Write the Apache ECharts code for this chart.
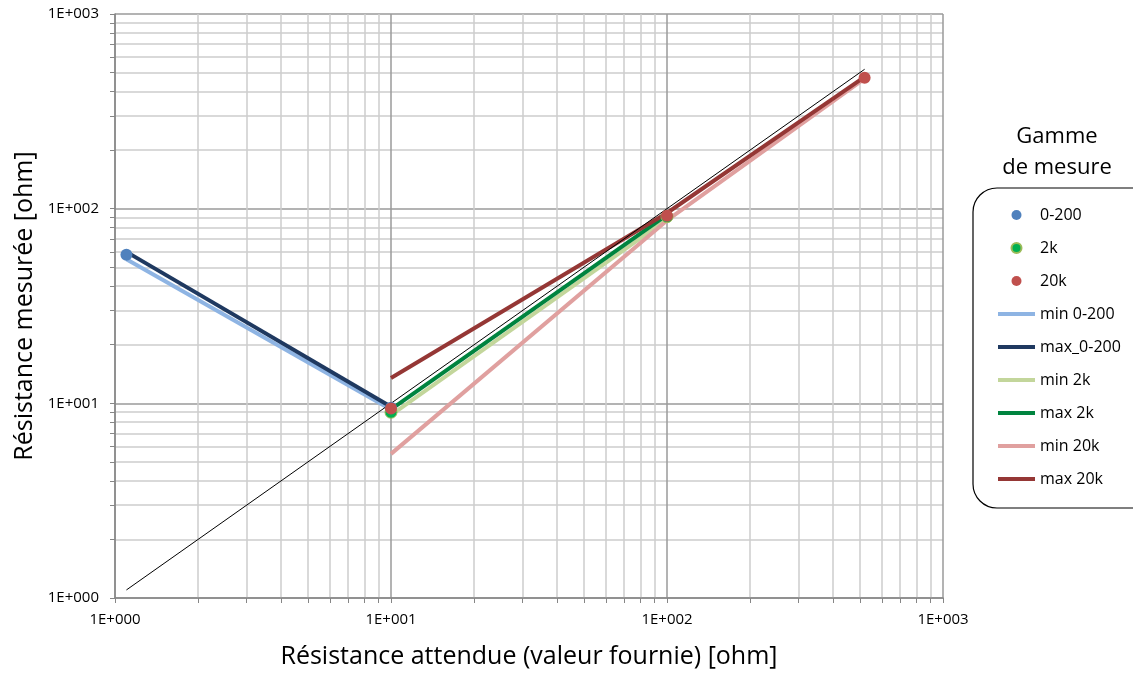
<!DOCTYPE html>
<html>
<head>
<meta charset="utf-8">
<script src="https://cdn.jsdelivr.net/npm/echarts@6/dist/echarts.min.js"></script>
<style>
  html, body { margin: 0; padding: 0; background: #fff; }
  #chart { width: 1133px; height: 674px; }
</style>
</head>
<body>
<div id="chart"></div>
<script>
// valeurs (x = résistance attendue, y = mesurée)
var pts_0_200 = [[1.1, 58], [10, 9.5]];
var pts_2k = [[10, 9.0], [100, 91]];
var pts_20k = [[10, 9.4], [100, 92], [520, 470]];
var min_0_200 = [[1.1, 55], [10, 9.3]];
var max_0_200 = [[1.1, 60], [10, 9.6]];
var min_2k = [[10, 8.7], [100, 88]];
var max_2k = [[10, 9.3], [100, 93]];
var min_20k = [[10, 5.5], [100, 87], [520, 465]];
var max_20k = [[10, 13.5], [100, 95], [520, 475]];
var ideal = [[1.1, 1.1], [520, 520]];

var FONT = "Open Sans";

var myChart = echarts.init(document.getElementById("chart"));

function expLabel(v) {
  var e = Math.round(Math.log10(v));
  return "1E+" + ("00" + e).slice(-3);
}

function lineSerie(name, data, color) {
  return {
    name: name,
    type: "line",
    data: data,
    symbol: "none",
    lineStyle: { color: color, width: 4 },
    itemStyle: { color: color },
    z: 3,
    animation: false
  };
}

function axisCommon() {
  return {
    type: "log",
    logBase: 10,
    min: 1,
    max: 1000,
    axisLine: { lineStyle: { color: "#868686", width: 1.5 } },
    axisTick: { show: true, length: 5, lineStyle: { color: "#868686" } },
    minorTick: { show: true, splitNumber: 9, length: 5, lineStyle: { color: "#868686" } },
    splitLine: { show: true, lineStyle: { color: "#9a9a9a", width: 1.5 } },
    minorSplitLine: { show: true, lineStyle: { color: "#cdcdcd", width: 1.5 } },
    axisLabel: {
      formatter: expLabel,
      color: "#000",
      fontFamily: FONT,
      fontSize: 15
    },
    nameLocation: "middle",
    nameTextStyle: { color: "#000", fontFamily: FONT, fontSize: 25 }
  };
}

var xAxis = axisCommon();
xAxis.name = "Résistance attendue (valeur fournie) [ohm]";
xAxis.nameGap = 46;
xAxis.axisLabel.margin = 14;

var yAxis = axisCommon();
yAxis.name = "Résistance mesurée [ohm]";
yAxis.nameGap = 76;
yAxis.axisLabel.margin = 16;

var lineIcon = "path://M0,0H37V4H0Z";

var option = {
  backgroundColor: "#fff",
  grid: { left: 115, right: 190, top: 14, bottom: 74 },
  xAxis: xAxis,
  yAxis: yAxis,
  legend: {
    orient: "vertical",
    left: 998,
    top: 206,
    padding: 0,
    itemWidth: 37,
    itemHeight: 10,
    itemGap: 15,
    textStyle: { color: "#000", fontFamily: FONT, fontSize: 16, lineHeight: 18 },
    data: [
      { name: "0-200", icon: "circle" },
      { name: "2k", icon: "circle" },
      { name: "20k", icon: "circle" },
      { name: "min 0-200", icon: lineIcon },
      { name: "max_0-200", icon: lineIcon },
      { name: "min 2k", icon: lineIcon },
      { name: "max 2k", icon: lineIcon },
      { name: "min 20k", icon: lineIcon },
      { name: "max 20k", icon: lineIcon }
    ]
  },
  graphic: [
    {
      type: "rect",
      shape: { x: 973, y: 188, width: 200, height: 320, r: 24 },
      style: { fill: "none", stroke: "#000", lineWidth: 1.2 },
      z: -1
    },
    {
      type: "text",
      style: {
        x: 1057,
        y: 152,
        text: "Gamme\nde mesure",
        align: "center",
        verticalAlign: "middle",
        lineHeight: 31,
        fontFamily: FONT,
        fontSize: 22,
        fill: "#000"
      }
    }
  ],
  series: [
    lineSerie("min 0-200", min_0_200, "#8eb4e3"),
    lineSerie("max_0-200", max_0_200, "#1f3960"),
    lineSerie("min 2k", min_2k, "#c3d69b"),
    lineSerie("max 2k", max_2k, "#00843f"),
    lineSerie("min 20k", min_20k, "#e0a09f"),
    lineSerie("max 20k", max_20k, "#953735"),
    {
      name: "idéal",
      type: "line",
      data: ideal,
      symbol: "none",
      lineStyle: { color: "#000", width: 1 },
      z: 4,
      animation: false
    },
    {
      name: "0-200",
      type: "scatter",
      data: pts_0_200,
      symbolSize: 12,
      itemStyle: { color: "#4f81bd", opacity: 1 },
      z: 5,
      animation: false
    },
    {
      name: "2k",
      type: "scatter",
      data: pts_2k,
      symbolSize: 12,
      itemStyle: { color: "#00b050", borderColor: "#9bbb59", borderWidth: 1, opacity: 1 },
      z: 5,
      animation: false
    },
    {
      name: "20k",
      type: "scatter",
      data: pts_20k,
      symbolSize: 12,
      itemStyle: { color: "#c0504d", opacity: 1 },
      z: 6,
      animation: false
    }
  ]
};

myChart.setOption(option);
</script>
</body>
</html>
